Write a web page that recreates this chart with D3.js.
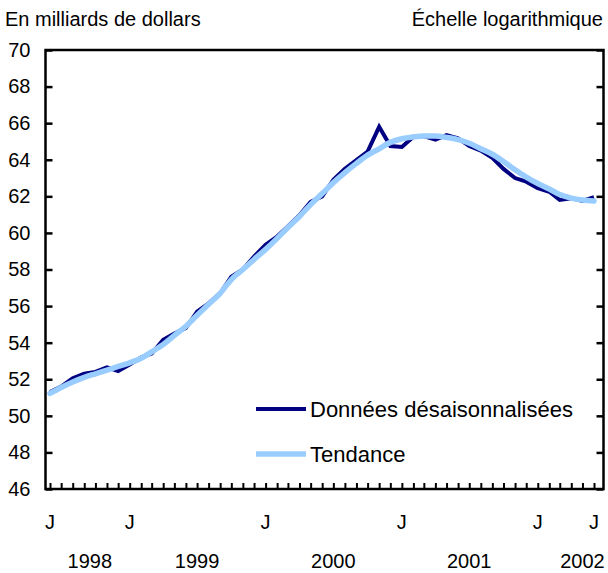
<!DOCTYPE html>
<html>
<head>
<meta charset="utf-8">
<script src="https://cdn.jsdelivr.net/npm/d3@7"></script>
<style>
  body { margin: 0; background: #fff; }
  svg { display: block; font-family: "Liberation Sans", Arial, sans-serif; }
</style>
</head>
<body>
<svg id="chart" width="608" height="573"></svg>
<script>
// monthly values, June 1998 .. June 2002 (billions of dollars)
const startMonth = new Date(1998, 5, 1);
const seasAdj = [51.3, 51.6, 52.05, 52.3, 52.4, 52.65, 52.45, 52.8, 53.2, 53.4,
  54.15, 54.5, 54.8, 55.7, 56.15, 56.7, 57.6, 58.0, 58.7, 59.35,
  59.8, 60.35, 60.97, 61.7, 62.0, 62.9, 63.5, 63.98, 64.45, 65.8,
  64.75, 64.7, 65.26, 65.3, 65.1, 65.35, 65.17, 64.75, 64.5, 64.1,
  63.5, 63.0, 62.8, 62.45, 62.25, 61.8, 61.9, 61.75, 61.95];
const trend = [51.23, 51.55, 51.85, 52.1, 52.3, 52.5, 52.7, 52.9, 53.15, 53.5,
  53.9, 54.4, 54.9, 55.5, 56.1, 56.7, 57.45, 58.0, 58.55, 59.1,
  59.7, 60.3, 60.9, 61.55, 62.15, 62.75, 63.3, 63.8, 64.25, 64.6,
  64.95, 65.15, 65.25, 65.3, 65.3, 65.22, 65.1, 64.9, 64.6, 64.3,
  63.9, 63.45, 63.05, 62.7, 62.4, 62.1, 61.9, 61.8, 61.75];
const yTicks = [46, 48, 50, 52, 54, 56, 58, 60, 62, 64, 66, 68, 70];
// month letters shown under the axis, and year labels (month offset from start)
const monthLabels = [[0, "J"], [7, "J"], [19, "J"], [31, "J"], [43, "J"], [48, "J"]];
const yearLabels = [[3.5, "1998"], [13, "1999"], [25, "2000"], [37, "2001"], [47, "2002"]];
const seriesNames = ["Données désaisonnalisées", "Tendance"];

const svg = d3.select("#chart");
const plotL = 45.5, plotR = 603.5, plotT = 50, plotB = 489;

const months = seasAdj.map((_, i) => d3.timeMonth.offset(startMonth, i));
const x = d3.scaleTime()
  .domain([months[0], months[months.length - 1]])
  .range([50, 594]);
const y = d3.scaleLinear().domain([46, 70]).range([plotB, plotT]);
const xAt = m => x(d3.timeMonth.offset(startMonth, Math.floor(m))) + (m % 1) * (x(months[1]) - x(months[0]));

// titles
svg.append("text").attr("x", 5).attr("y", 26).attr("font-size", 20).text("En milliards de dollars");
svg.append("text").attr("x", 603).attr("y", 26).attr("font-size", 20)
  .attr("text-anchor", "end").text("Échelle logarithmique");

// left axis with inward ticks
const gl = svg.append("g").attr("transform", `translate(${plotL},0)`)
  .call(d3.axisLeft(y).tickValues(yTicks).tickSize(-7).tickPadding(15));
gl.select(".domain").remove();
gl.selectAll(".tick line").attr("stroke-width", 2.5);
gl.selectAll(".tick text").attr("font-size", 20).attr("fill", "#000").attr("font-family", null);

// right axis, ticks only
const gr = svg.append("g").attr("transform", `translate(${plotR},0)`)
  .call(d3.axisRight(y).tickValues(yTicks).tickSize(-7).tickFormat(""));
gr.select(".domain").remove();
gr.selectAll(".tick line").attr("stroke-width", 2.5);

// bottom monthly ticks
const gb = svg.append("g").attr("transform", `translate(0,${plotB})`)
  .call(d3.axisBottom(x).tickValues(months).tickSize(-6).tickFormat(""));
gb.select(".domain").remove();
gb.selectAll(".tick line").attr("stroke-width", 2);

// frame
svg.append("rect").attr("x", plotL).attr("y", plotT)
  .attr("width", plotR - plotL).attr("height", plotB - plotT)
  .attr("fill", "none").attr("stroke", "#000").attr("stroke-width", 2.5);

svg.selectAll(".mlab").data(monthLabels).enter().append("text")
  .attr("x", d => xAt(d[0])).attr("y", 529).attr("font-size", 20)
  .attr("text-anchor", "middle").text(d => d[1]);
svg.selectAll(".ylab").data(yearLabels).enter().append("text")
  .attr("x", d => xAt(d[0])).attr("y", 568).attr("font-size", 20)
  .attr("text-anchor", "middle").text(d => d[1]);

const line = d3.line().x((d, i) => x(months[i])).y(d => y(d));
svg.append("path").datum(seasAdj).attr("d", line)
  .attr("fill", "none").attr("stroke", "#000080").attr("stroke-width", 4)
  .attr("stroke-linejoin", "miter");
svg.append("path").datum(trend).attr("d", line.curve(d3.curveMonotoneX))
  .attr("fill", "none").attr("stroke", "#99ccff").attr("stroke-width", 5.5)
  .attr("stroke-linecap", "round");

// legend
const legend = [[seriesNames[0], "#000080", 4, 409], [seriesNames[1], "#99ccff", 5.5, 454]];
legend.forEach(([name, col, w, ly]) => {
  svg.append("line").attr("x1", 256).attr("x2", 306).attr("y1", ly).attr("y2", ly)
    .attr("stroke", col).attr("stroke-width", w);
  svg.append("text").attr("x", 310).attr("y", ly + 8).attr("font-size", 22).text(name);
});
</script>
</body>
</html>
